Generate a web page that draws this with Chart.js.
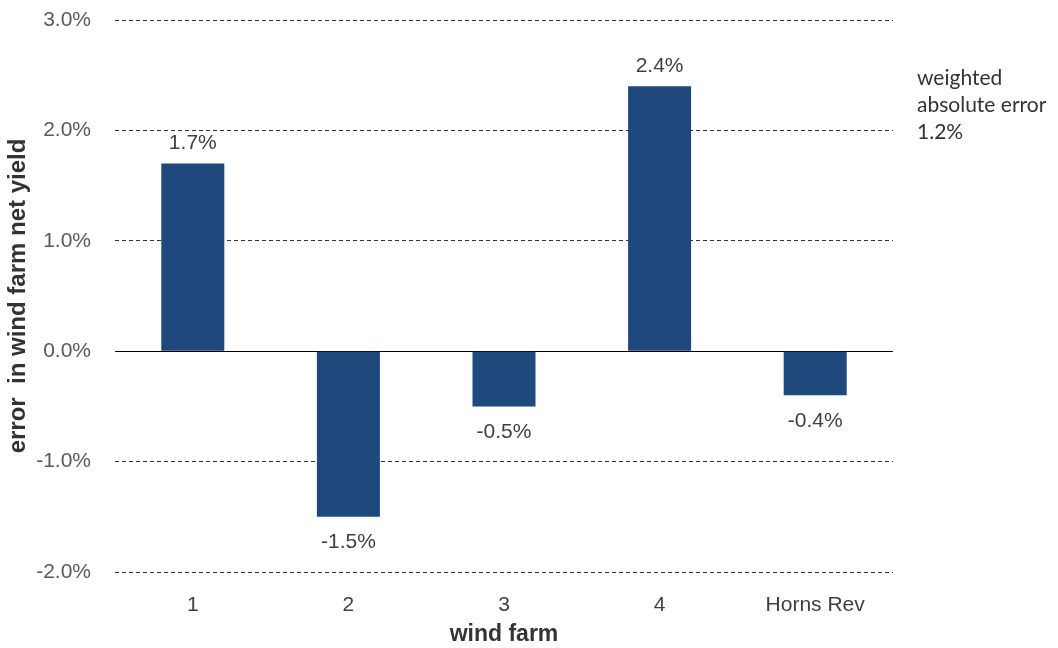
<!DOCTYPE html>
<html>
<head>
<meta charset="utf-8">
<script src="https://cdn.jsdelivr.net/npm/chart.js@4/dist/chart.umd.min.js"></script>
<style>
  html, body { margin: 0; padding: 0; background: #fff; }
  #wrap { position: relative; width: 1058px; height: 648px; }
</style>
</head>
<body>
<div id="wrap"><canvas id="c" width="1058" height="648"></canvas></div>
<script>
// Wind farm names and the relative error of the predicted net yield (in %)
const farms = ['1', '2', '3', '4', 'Horns Rev'];
const yieldError = [1.7, -1.5, -0.5, 2.4, -0.4];
const yTicks = [-2, -1, 0, 1, 2, 3];
const noteLines = ['weighted', 'absolute error', '1.2%'];

const BAR = '#1F497D';
const FONT = '"Liberation Sans", Arial, sans-serif';

const fmt = v => v.toFixed(1) + '%';

// value labels above positive bars and below negative ones
const valueLabels = {
  id: 'valueLabels',
  afterDatasetsDraw(chart) {
    const ctx = chart.ctx;
    const meta = chart.getDatasetMeta(0);
    ctx.save();
    ctx.font = '21px ' + FONT;
    ctx.fillStyle = '#404040';
    ctx.textAlign = 'center';
    meta.data.forEach((bar, i) => {
      const v = yieldError[i];
      if (v >= 0) {
        ctx.textBaseline = 'bottom';
        ctx.fillText(fmt(v), bar.x, bar.y - 10);
      } else {
        ctx.textBaseline = 'top';
        ctx.fillText(fmt(v), bar.x, bar.y + 15);
      }
    });
    ctx.restore();
  }
};

// side note next to the plot
const sideNote = {
  id: 'sideNote',
  afterDraw(chart) {
    const ctx = chart.ctx;
    ctx.save();
    ctx.font = '21px Lato, "Open Sans", sans-serif';
    ctx.fillStyle = '#333333';
    ctx.textAlign = 'left';
    ctx.textBaseline = 'middle';
    noteLines.forEach((t, i) => ctx.fillText(t, 917, 78 + i * 27));
    ctx.restore();
  }
};

// keep the plot area where the layout padding puts it
function noScalePadding(s) {
  s.paddingTop = 0; s.paddingBottom = 0; s.paddingLeft = 0; s.paddingRight = 0;
}

new Chart(document.getElementById('c'), {
  type: 'bar',
  data: {
    labels: farms,
    datasets: [{
      data: yieldError,
      backgroundColor: BAR,
      borderWidth: 0,
      barPercentage: 0.81,
      categoryPercentage: 0.5
    }]
  },
  options: {
    responsive: false,
    animation: false,
    devicePixelRatio: 1,
    layout: { padding: { left: 0, right: 165, top: 20, bottom: 0 } },
    plugins: { legend: { display: false }, tooltip: { enabled: false } },
    scales: {
      x: {
        grid: { display: false, drawTicks: false },
        border: { display: false },
        ticks: { color: '#404040', font: { family: FONT, size: 21 }, padding: 21 },
        title: {
          display: true, text: 'wind farm', color: '#333333',
          font: { family: FONT, size: 23, weight: 'bold' }, padding: { top: 0, bottom: 0 }
        },
        afterFit(s) { s.height = 76; noScalePadding(s); }
      },
      y: {
        min: -2, max: 3,
        afterBuildTicks(s) { s.ticks = yTicks.map(v => ({ value: v })); },
        grid: {
          drawTicks: false,
          color: ctx => ctx.tick && ctx.tick.value === 0 ? '#000000' : '#333333',
          lineWidth: 1
        },
        border: { display: false, dash: ctx => ctx.tick && ctx.tick.value === 0 ? [] : [4, 3] },
        ticks: {
          color: '#595959', font: { family: FONT, size: 21 }, padding: 24,
          callback: v => fmt(v)
        },
        title: {
          display: true, text: 'error  in wind farm net yield', color: '#333333',
          font: { family: FONT, size: 24, weight: 'bold' }, padding: { top: 4, bottom: 0 }
        },
        afterFit(s) { s.width = 115; noScalePadding(s); }
      }
    }
  },
  plugins: [valueLabels, sideNote]
});
</script>
</body>
</html>
